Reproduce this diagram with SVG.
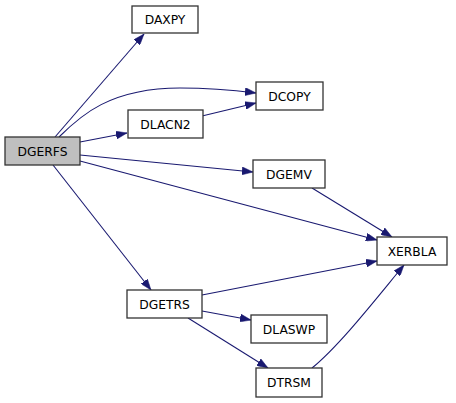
<svg xmlns="http://www.w3.org/2000/svg" width="456" height="403" viewBox="0 0 456 403">
<style>
.node rect{fill:#fff;stroke:#333;stroke-width:1.3}
.node text{font-family:"DejaVu Sans",sans-serif;font-size:12.3px;text-anchor:middle;fill:#000}
.edge{fill:none;stroke:#191970;stroke-width:1.1}
</style>
<defs>
<marker id="a" markerUnits="userSpaceOnUse" markerWidth="11" markerHeight="8" refX="11" refY="4" orient="auto">
<path d="M0,0 L11,4 L0,8 z" fill="#191970" stroke="#191970" stroke-width="0.5"/>
</marker>
</defs>
<rect width="456" height="403" fill="#fff"/>
<g id="edges">
<path class="edge" marker-end="url(#a)" d="M55,137 L144,34"/>
<path class="edge" marker-end="url(#a)" d="M59,137 C80,116 110,88 180,88 C210,88 232,90 256,93"/>
<path class="edge" marker-end="url(#a)" d="M80,142 L127,133"/>
<path class="edge" marker-end="url(#a)" d="M202,116 L256,103"/>
<path class="edge" marker-end="url(#a)" d="M80,155 L253,172"/>
<path class="edge" marker-end="url(#a)" d="M80,161 L377,240"/>
<path class="edge" marker-end="url(#a)" d="M53,165 L151,290"/>
<path class="edge" marker-end="url(#a)" d="M312,188 L392,237"/>
<path class="edge" marker-end="url(#a)" d="M202,295 L377,261"/>
<path class="edge" marker-end="url(#a)" d="M202,311 L251,320"/>
<path class="edge" marker-end="url(#a)" d="M188,318 L268,368"/>
<path class="edge" marker-end="url(#a)" d="M312,368 C340,345 375,300 404,265"/>
</g>
<g id="DGERFS" class="node"><rect x="5" y="137" width="75" height="28" style="fill:#bfbfbf"/><text x="42.5" y="155.5">DGERFS</text></g>
<g id="DAXPY" class="node"><rect x="132" y="6" width="66" height="27"/><text x="165" y="24">DAXPY</text></g>
<g id="DLACN2" class="node"><rect x="128" y="110" width="75" height="28"/><text x="165.5" y="128.5">DLACN2</text></g>
<g id="DCOPY" class="node"><rect x="256" y="82" width="67" height="28"/><text x="289.5" y="100.5">DCOPY</text></g>
<g id="DGEMV" class="node"><rect x="253" y="160" width="72" height="28"/><text x="289" y="178.5">DGEMV</text></g>
<g id="XERBLA" class="node"><rect x="377" y="237" width="70" height="28"/><text x="412" y="255.5">XERBLA</text></g>
<g id="DGETRS" class="node"><rect x="127" y="290" width="75" height="28"/><text x="164.5" y="308.5">DGETRS</text></g>
<g id="DLASWP" class="node"><rect x="251" y="315" width="76" height="28"/><text x="289" y="333.5">DLASWP</text></g>
<g id="DTRSM" class="node"><rect x="256" y="368" width="66" height="29"/><text x="289" y="386.5">DTRSM</text></g>
</svg>
